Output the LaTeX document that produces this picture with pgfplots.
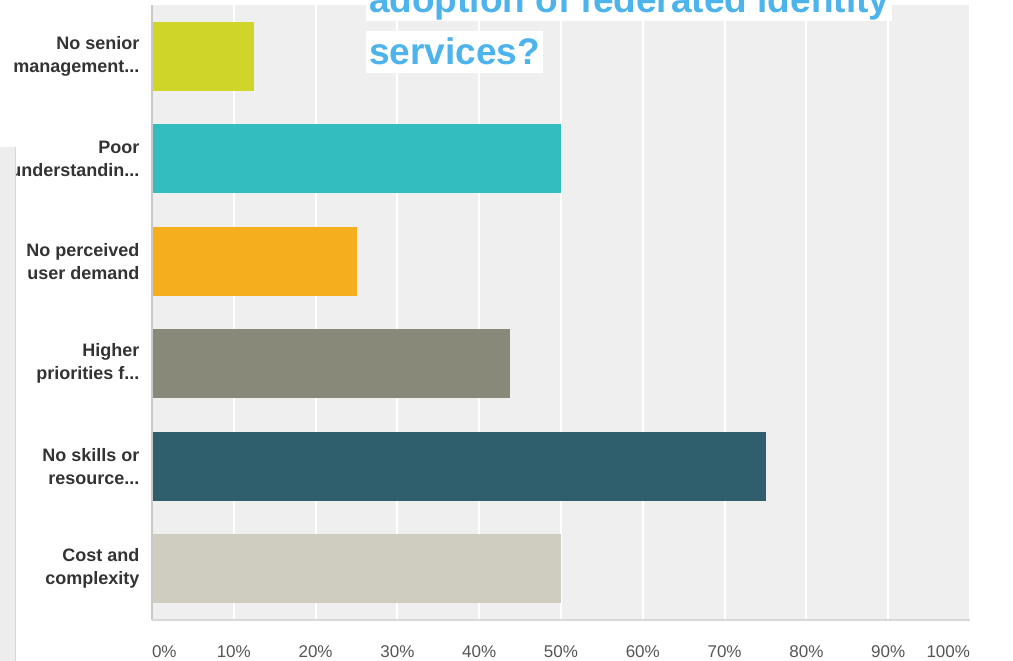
\documentclass[border=0pt]{standalone}
\usepackage{fontspec}
\setmainfont{Liberation Sans}
\usepackage{pgfplots}
\pgfplotsset{compat=1.18}
\definecolor{cLime}{HTML}{D0D52A}
\definecolor{cTeal}{HTML}{33BDBE}
\definecolor{cOrange}{HTML}{F5AF1E}
\definecolor{cOlive}{HTML}{898979}
\definecolor{cDark}{HTML}{2F5F6C}
\definecolor{cBeige}{HTML}{CFCDC0}
\definecolor{cBg}{HTML}{EFEFEF}
\definecolor{cTitle}{HTML}{4DB3EC}
\definecolor{cLab}{HTML}{333333}
\definecolor{cTick}{HTML}{555555}
\definecolor{cAxB}{HTML}{D8D8D8}
\definecolor{cAxL}{HTML}{C8C8C8}
\definecolor{cStrip}{HTML}{EDEDED}
\newcommand{\ddd}{.{}.{}.}
\begin{document}
\begin{tikzpicture}[x=1pt,y=1pt]
\clip (0,0) rectangle (1013,661);
\begin{axis}[
  at={(152pt,41pt)}, anchor=south west,
  scale only axis, width=818pt, height=615pt,
  xmin=0, xmax=100, ymin=-0.5, ymax=5.5,
  clip=false,
  xbar, bar width=69pt, bar shift=0pt,
  axis background/.style={fill=cBg},
  axis line style={draw=none},
  major tick length=0pt,
  xmajorgrids, grid style={white, line width=2pt},
  xtick={0,10,20,30,40,50,60,70,80,90,100},
  xticklabels={\rlap{0\%},10\%,20\%,30\%,40\%,50\%,60\%,70\%,80\%,90\%,\llap{100\%}},
  xticklabel style={anchor=base, yshift=-38pt, text=cTick, font=\fontsize{17}{20}\selectfont},
  ytick={0,1,2,3,4,5},
  yticklabels={{Cost and\\complexity}, {No skills or\\resource\ddd}, {Higher\\priorities f\ddd}, {No perceived\\user demand}, {Poor\\understandin\ddd}, {No senior\\management\ddd}},
  yticklabel style={align=right, anchor=east, xshift=-9pt, text=cLab, font=\fontsize{18}{23}\selectfont\bfseries},
]
\addplot[fill=cBeige, draw=none] coordinates {(50,0)};
\addplot[fill=cDark, draw=none] coordinates {(75,1)};
\addplot[fill=cOlive, draw=none] coordinates {(43.75,2)};
\addplot[fill=cOrange, draw=none] coordinates {(25,3)};
\addplot[fill=cTeal, draw=none] coordinates {(50,4)};
\addplot[fill=cLime, draw=none] coordinates {(12.5,5)};
\draw[cAxL, line width=1.5pt] (axis cs:0,-0.5) -- (axis cs:0,5.5);
\draw[cAxB, line width=2pt] (axis cs:0,-0.5) -- (axis cs:100,-0.5);
\end{axis}
\fill[cStrip] (0,0) rectangle (15,514);
\draw[cAxB, line width=1pt] (15,0) -- (15,514);
\node[anchor=base west, fill=white, inner xsep=3pt, inner ysep=0pt, text height=33.5pt, text depth=7.8pt, font=\fontsize{37}{44}\selectfont\bfseries, text=cTitle] at (366,648) {adoption of federated identity};
\node[anchor=base west, fill=white, inner xsep=3pt, inner ysep=0pt, text height=33.5pt, text depth=7.8pt, font=\fontsize{37}{44}\selectfont\bfseries, text=cTitle] at (366,596) {services?};
\end{tikzpicture}
\end{document}
